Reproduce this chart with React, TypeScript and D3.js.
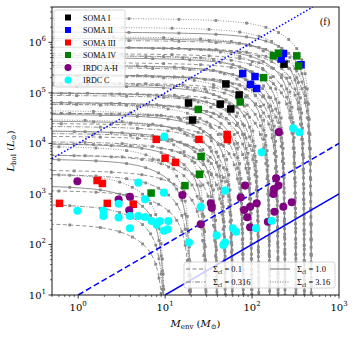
import React from 'react';
import * as d3 from 'd3';

const W = 357, H = 338;
const margin = { top: 7, right: 18, bottom: 43, left: 52 };

// protostellar tracks: initial core masses (M_sun) and clump surface densities
const coreMasses = [10, 20, 30, 40, 50, 60, 80, 100, 120, 160, 200, 240, 320, 400, 480];
const sigmaCl = [0.1, 0.316, 1.0, 3.16];
const sigmaLabels = ['0.1', '0.316', '1.0', '3.16'];
// luminosity at the low-envelope end of each track, one list per sigma
const endLumS01 = [270, 1.2e3, 3e3, 6e3, 1e4, 1.4e4, 2.5e4, 4e4, 6e4, 1e5, 1.6e5, 2.2e5, 4e5, 6e5, 8e5];
const endLumS0316 = [650, 2.5e3, 6e3, 1.1e4, 1.6e4, 2.2e4, 4e4, 6.5e4, 9e4, 1.5e5, 2.3e5, 3.2e5, 5.5e5, 8e5, 1.1e6];
const endLumS1 = [1.5e3, 5e3, 1e4, 1.8e4, 2.8e4, 3.8e4, 6.5e4, 1e5, 1.4e5, 2.3e5, 3.5e5, 5e5, 8e5, 1.2e6, 1.6e6];
const endLumS316 = [2.6e3, 9e3, 1.8e4, 3e4, 4.5e4, 6e4, 1e5, 1.6e5, 2.2e5, 3.6e5, 5.5e5, 8e5, 1.3e6, 2e6, 3e6];
// track shape: [M_env / M_core, L / L_end] at the marked time steps
const trackShape = [
  [1.0, 2e-6], [1.0, 5e-6], [0.999, 1e-5], [0.998, 2e-5], [0.997, 4e-5], [0.995, 8e-5],
  [0.993, 1.6e-4], [0.99, 3.2e-4], [0.985, 6.4e-4], [0.98, 1.3e-3], [0.975, 2.6e-3],
  [0.965, 5e-3], [0.95, 0.01], [0.93, 0.02], [0.9, 0.04], [0.85, 0.08], [0.78, 0.15],
  [0.68, 0.25], [0.55, 0.38], [0.42, 0.52], [0.3, 0.66], [0.18, 0.8], [0.08, 0.9],
  [0.03, 0.95], [0.008, 0.98], [0.001, 1],
];

// observed sources: [M_env, L_bol]
const somaI = [[233, 3.7e5], [50, 1.5e5], [71, 9.1e4], [18.6, 6.3e4], [43, 6.0e4], [57, 4.8e4], [20.7, 2.9e4]];
const somaII = [[78, 2.4e5], [108, 2.1e5], [96, 1.47e5], [113, 1.22e5], [230, 6.0e5], [216, 4.7e5], [366, 3.6e5]];
const somaIII = [[7.9, 1.2e4], [24.5, 1.2e4], [51.6, 1.5e4], [52, 1.19e4], [10, 5.1e3], [13.2, 4.2e3],
  [1.65, 1.84e3], [1.9, 1.61e3], [0.61, 650], [2.16, 650], [4.3, 624]];
const somaIV = [[176, 5.4e5], [201, 6.1e5], [327, 5.4e5], [343, 3.4e5], [136, 2.0e5], [73, 6.6e4],
  [24.1, 4.7e4], [25.9, 5.5e3], [24.9, 2.45e3], [16.9, 1.46e3], [6.9, 1.04e3]];
const irdcAH = [[0.98, 1.78e3], [2.92, 776], [3.94, 881], [3.87, 474], [15.8, 953], [33.5, 653], [34.4, 535],
  [25.7, 251], [83, 1.46e3], [74, 851], [113, 653], [95, 559], [81, 481], [88, 345], [95, 219],
  [189, 2.04e3], [201, 1.46e3], [179, 1.25e3], [176, 998], [229, 559], [286, 684], [181, 445],
  [152, 282], [203, 1.67e4]];
const irdcC = [[9.8, 1.36e4], [297, 1.99e4], [350, 1.66e4], [129, 6.67e3], [4.92, 1.67e3], [0.98, 464],
  [1.95, 470], [1.95, 366], [2.92, 638], [2.92, 342], [3.94, 366], [3.94, 209], [4.92, 366],
  [5.88, 783], [5.88, 350], [7.0, 291], [8.0, 246], [8.7, 291], [9.7, 1.06e3], [10.9, 291],
  [9.7, 187], [10.7, 200], [48.9, 1.16e3], [25.7, 559], [18.8, 109], [39.2, 151], [48.9, 109],
  [46.8, 98], [60, 209], [65.5, 179], [111, 209], [168, 295]];

const groups = [
  { name: 'SOMA I', data: somaI, color: '#000000', shape: 'square' },
  { name: 'SOMA II', data: somaII, color: '#0000ff', shape: 'square' },
  { name: 'SOMA III', data: somaIII, color: '#ff0000', shape: 'square' },
  { name: 'SOMA IV', data: somaIV, color: '#008000', shape: 'square' },
  { name: 'IRDC A-H', data: irdcAH, color: '#800080', shape: 'circle' },
  { name: 'IRDC C', data: irdcC, color: '#00ffff', shape: 'circle' },
];

// constant L/M ratios
const ratioLines = [
  { ratio: 1, from: 10, to: 1000, dash: null },
  { ratio: 10, from: 1, to: 1000, dash: '6,3' },
  { ratio: 1e4, from: 0.5, to: 500, dash: '1.5,2' },
];

const trackDash = ['4,2.5', '5,1.5,1,1.5', null, '1,1.5'];

const App = () => {
  const x0 = margin.left, x1 = W - margin.right;
  const y0 = margin.top, y1 = H - margin.bottom;
  const x = d3.scaleLog().domain([0.5, 1000]).range([x0, x1]);
  const y = d3.scaleLog().domain([10, 5e6]).range([y1, y0]);

  const endLums = [endLumS01, endLumS0316, endLumS1, endLumS316];
  const tracks = sigmaCl.flatMap((s, si) => coreMasses.map((m0, mi) => ({
    key: `${s}-${m0}`,
    dash: trackDash[si],
    pts: trackShape.map(([mf, lf]) => [m0 * mf, endLums[si][mi] * lf]),
  })));

  const line = d3.line<number[]>()
    .x(d => x(d[0]))
    .y(d => y(d[1]))
    .curve(d3.curveCatmullRom.alpha(0.5));

  const isMajor = (v: number) => Math.abs(Math.log10(v) - Math.round(Math.log10(v))) < 1e-6;
  const xMinor = x.ticks().filter(v => !isMajor(v));
  const yMinor = y.ticks().filter(v => !isMajor(v));
  const xMajor = [1, 10, 100, 1000];
  const yMajor = [1e1, 1e2, 1e3, 1e4, 1e5, 1e6];

  const serif = '"DejaVu Serif", serif';
  const times = '"Liberation Serif", serif';

  const marker = (g: any, d: number[], i: number, size: number) => g.shape === 'square'
    ? <rect key={i} x={x(d[0]) - size / 2} y={y(d[1]) - size / 2} width={size} height={size} fill={g.color} />
    : <circle key={i} cx={x(d[0])} cy={y(d[1])} r={size / 2 + 0.3} fill={g.color} />;

  return (
    <svg width={W} height={H} style={{ display: 'block', position: 'absolute', left: 0, top: 0 }}>
      <defs>
        <clipPath id="plot-clip">
          <rect x={x0} y={y0} width={x1 - x0} height={y1 - y0} />
        </clipPath>
      </defs>
      <rect x={0} y={0} width={W} height={H} fill="#fff" />

      <g clipPath="url(#plot-clip)">
        {tracks.map(t => (
          <path key={t.key} d={line(t.pts) || ''} fill="none" stroke="#808080" strokeWidth={0.85}
            strokeDasharray={t.dash || undefined} />
        ))}
        {tracks.map(t => t.pts.map((p, i) => (
          <rect key={t.key + i} x={x(p[0]) - 1.4} y={y(p[1]) - 1.4} width={2.8} height={2.8} fill="#8a8a8a" />
        )))}
        {ratioLines.map(r => (
          <line key={r.ratio} x1={x(r.from)} y1={y(r.from * r.ratio)} x2={x(r.to)} y2={y(r.to * r.ratio)}
            stroke="#0000ff" strokeWidth={1.5} strokeDasharray={r.dash || undefined} />
        ))}
        {groups.map(g => (
          <g key={g.name}>{g.data.map((d, i) => marker(g, d, i, 7.5))}</g>
        ))}
      </g>

      {/* frame */}
      <rect x={x0} y={y0} width={x1 - x0} height={y1 - y0} fill="none" stroke="#000" strokeWidth={0.9} />

      {/* x axis */}
      {xMajor.map(v => (
        <g key={v}>
          <line x1={x(v)} x2={x(v)} y1={y1} y2={y1 + 3.5} stroke="#000" strokeWidth={0.8} />
          <text x={x(v)} y={y1 + 16} textAnchor="middle" fontFamily={serif} fontSize={10}>
            10<tspan fontSize={7} dy={-5}>{Math.round(Math.log10(v))}</tspan>
          </text>
        </g>
      ))}
      {xMinor.map(v => (
        <line key={v} x1={x(v)} x2={x(v)} y1={y1} y2={y1 + 2} stroke="#000" strokeWidth={0.6} />
      ))}

      {/* y axis */}
      {yMajor.map(v => (
        <g key={v}>
          <line x1={x0 - 3.5} x2={x0} y1={y(v)} y2={y(v)} stroke="#000" strokeWidth={0.8} />
          <text x={x0 - 6} y={y(v) + 4} textAnchor="end" fontFamily={serif} fontSize={10}>
            10<tspan fontSize={7} dy={-5}>{Math.round(Math.log10(v))}</tspan>
          </text>
        </g>
      ))}
      {yMinor.map(v => (
        <line key={v} x1={x0 - 2} x2={x0} y1={y(v)} y2={y(v)} stroke="#000" strokeWidth={0.6} />
      ))}

      {/* axis labels */}
      <text x={(x0 + x1) / 2} y={327} textAnchor="middle" fontFamily={serif} fontSize={10}>
        <tspan fontStyle="italic">M</tspan><tspan fontSize={7} dy={2}>env</tspan>
        <tspan dy={-2}> (</tspan><tspan fontStyle="italic">M</tspan><tspan fontSize={7} dy={2}>⊙</tspan><tspan dy={-2}>)</tspan>
      </text>
      <text transform={`translate(14,${(y0 + y1) / 2}) rotate(-90)`} textAnchor="middle" fontFamily={serif} fontSize={10}>
        <tspan fontStyle="italic">L</tspan><tspan fontSize={7} dy={2}>bol</tspan>
        <tspan dy={-2}> (</tspan><tspan fontStyle="italic">L</tspan><tspan fontSize={7} dy={2}>⊙</tspan><tspan dy={-2}>)</tspan>
      </text>

      <text x={325} y={25} textAnchor="middle" fontFamily={times} fontSize={10}>(f)</text>

      {/* source legend */}
      <rect x={54} y={10} width={71} height={77} rx={2} fill="#fff" fillOpacity={0.8} stroke="#cccccc" strokeWidth={0.8} />
      {groups.map((g, i) => {
        const ly = 17.5 + i * 12.5;
        return (
          <g key={g.name}>
            {g.shape === 'square'
              ? <rect x={68 - 3} y={ly - 3} width={6} height={6} fill={g.color} />
              : <circle cx={68} cy={ly} r={3.5} fill={g.color} />}
            <text x={83} y={ly + 3} fontFamily={times} fontSize={8}>{g.name}</text>
          </g>
        );
      })}

      {/* track legend: 0.1 and 0.316 in the first column, 1.0 and 3.16 in the second */}
      <rect x={184} y={262} width={151} height={26} rx={2} fill="#fff" fillOpacity={0.8} stroke="#cccccc" strokeWidth={0.8} />
      {sigmaLabels.map((lab, i) => {
        const lx = i < 2 ? 186 : 270;
        const ly = 269 + (i % 2) * 13;
        return (
          <g key={lab}>
            <line x1={lx} x2={lx + 20} y1={ly} y2={ly} stroke="#808080" strokeWidth={1.2}
              strokeDasharray={trackDash[i] || undefined} />
            <text x={lx + 27} y={ly + 3} fontFamily={times} fontSize={8.5}>
              Σ<tspan fontSize={6} dy={2}>cl</tspan><tspan dy={-2}> = {lab}</tspan>
            </text>
          </g>
        );
      })}
    </svg>
  );
};

export default App;
